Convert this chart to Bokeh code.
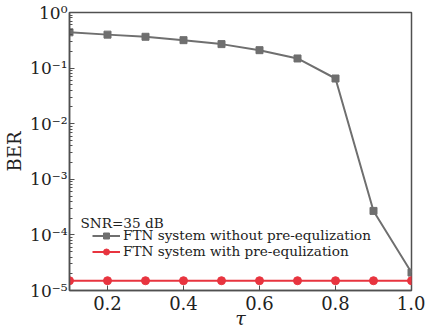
from bokeh.plotting import figure
from bokeh.models import (FixedTicker, CustomJSTickFormatter, Legend, LegendItem, Label, Range1d)
from bokeh.embed import file_html
from bokeh.resources import INLINE

tau = [0.1, 0.2, 0.3, 0.4, 0.5, 0.6, 0.7, 0.8, 0.9, 1.0]
ber_without = [0.44, 0.40, 0.366, 0.318, 0.27, 0.21, 0.149, 0.065, 2.7e-4, 2.1e-5]
ber_with = [1.5e-5, 1.5e-5, 1.5e-5, 1.5e-5, 1.5e-5, 1.5e-5, 1.5e-5, 1.5e-5, 1.5e-5, 1.5e-5]
x_ticks = [0.2, 0.4, 0.6, 0.8, 1.0]
y_ticks = [1e-5, 1e-4, 1e-3, 1e-2, 1e-1, 1.0]
x_label = "τ"
y_label = "BER"
label_without = "FTN system without pre-equlization"
label_with = "FTN system with pre-equlization"
legend_title = "SNR=35 dB"

FONT = "DejaVu Serif"
GRAY = "#6f6f6f"
RED = "#e8343f"
FRAME = "#505050"

p = figure(width=425, height=335, y_axis_type="log", output_backend="svg",
           toolbar_location=None,
           x_range=Range1d(0.1, 1.0), y_range=Range1d(1e-5, 1.0),
           min_border_left=69, min_border_right=14, min_border_top=12,
           min_border_bottom=45)

p.grid.visible = False
p.outline_line_color = FRAME
p.outline_line_width = 1.5
p.background_fill_color = "white"

# x axis
p.xaxis.ticker = FixedTicker(ticks=x_ticks, minor_ticks=[])
p.xaxis.major_tick_in = 5
p.xaxis.major_tick_out = 0
p.xaxis.minor_tick_in = 0
p.xaxis.minor_tick_out = 0
p.xaxis.major_label_text_font_size = "18px"
p.xaxis.major_label_standoff = 5
p.xaxis.axis_label = x_label
p.xaxis.axis_label_text_font = FONT
p.xaxis.axis_label_text_font_style = "italic"
p.xaxis.axis_label_text_font_size = "19px"
p.xaxis.axis_label_standoff = -6
p.xaxis.formatter = CustomJSTickFormatter(code="return tick.toFixed(1);")

# y axis
minor = [m * d for d in [1e-5, 1e-4, 1e-3, 1e-2, 1e-1] for m in range(2, 10)]
p.yaxis.ticker = FixedTicker(ticks=y_ticks, minor_ticks=minor)
p.yaxis.major_tick_in = 5
p.yaxis.major_tick_out = 0
p.yaxis.minor_tick_in = 3
p.yaxis.minor_tick_out = 0
p.yaxis.axis_label = y_label
p.yaxis.axis_label_text_font = FONT
p.yaxis.axis_label_text_font_style = "normal"
p.yaxis.axis_label_text_font_size = "18px"
p.yaxis.axis_label_standoff = 2
p.yaxis.major_label_text_font_size = "17px"
p.yaxis.major_label_standoff = 2
p.yaxis.formatter = CustomJSTickFormatter(code="""
const sup = {'-':'\u207b','0':'\u2070','1':'\u00b9','2':'\u00b2','3':'\u00b3','4':'\u2074','5':'\u2075','6':'\u2076','7':'\u2077','8':'\u2078','9':'\u2079'};
const e = Math.round(Math.log10(tick));
return '10' + String(e).split('').map(c => sup[c]).join('');
""")

for ax in (p.xaxis, p.yaxis):
    ax.axis_line_color = FRAME
    ax.axis_line_width = 1.5
    ax.major_tick_line_color = FRAME
    ax.minor_tick_line_color = FRAME
    ax.major_label_text_font = FONT
    ax.major_label_text_color = "#222222"
    ax.axis_label_text_color = "#222222"

l1 = p.line(tau, ber_without, line_color=GRAY, line_width=2)
s1 = p.scatter(tau, ber_without, marker="square", size=7, fill_color=GRAY, line_color=GRAY)
l2 = p.line(tau, ber_with, line_color=RED, line_width=2)
s2 = p.scatter(tau, ber_with, marker="circle", size=8, fill_color=RED, line_color=RED)

legend = Legend(items=[LegendItem(label=label_without, renderers=[l1, s1]),
                       LegendItem(label=label_with, renderers=[l2, s2])],
                location=(23, 31), padding=0, margin=0, spacing=0,
                label_height=15, glyph_height=15, glyph_width=28,
                label_standoff=3,
                label_text_font=FONT, label_text_font_size="13.6px",
                label_text_color="#222222",
                background_fill_alpha=0, border_line_alpha=0)
p.add_layout(legend)

title = Label(x=11, y=68, x_units="screen", y_units="screen", text=legend_title,
              text_font=FONT, text_font_size="13.6px", text_color="#222222",
              text_baseline="middle")
p.add_layout(title)

open("out.html", "w").write(file_html(p, INLINE))
